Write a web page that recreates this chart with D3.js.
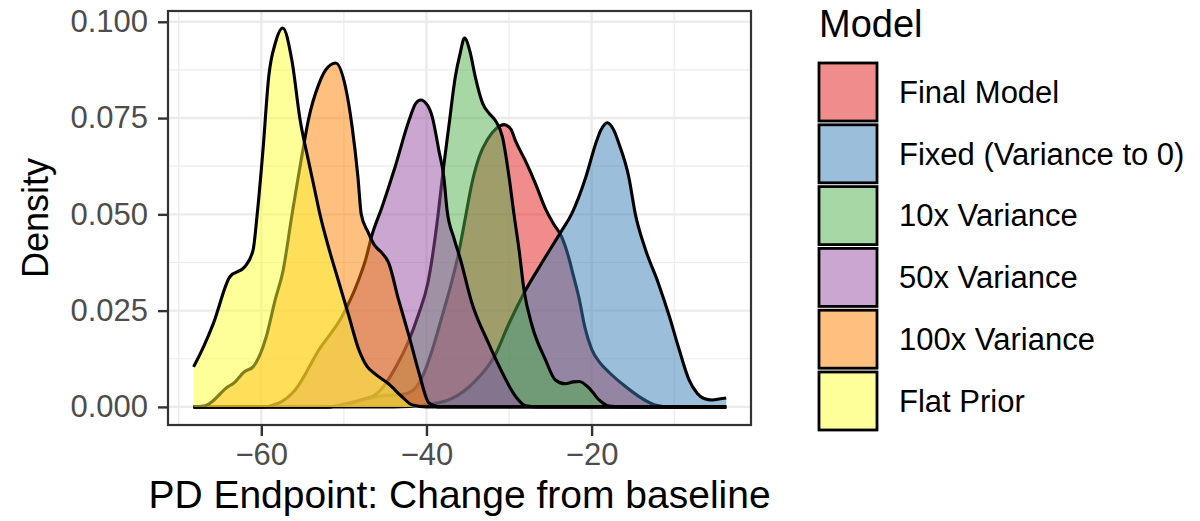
<!DOCTYPE html>
<html>
<head>
<meta charset="utf-8">
<script src="https://cdn.jsdelivr.net/npm/d3@7"></script>
<style>
  body { margin: 0; background: #fff; }
  text { font-family: "Liberation Sans", Arial, sans-serif; }
</style>
</head>
<body>
<div id="chart"></div>
<script>
// Models (legend order = drawing order)
var models = ["Final Model", "Fixed (Variance to 0)", "10x Variance", "50x Variance", "100x Variance", "Flat Prior"];

// Density curves: [change from baseline, density]
var finalModel = [[-68.2, 0], [-52, 0], [-49.8, 0.0006], [-47.4, 0.002], [-45, 0.003], [-43, 0.0032], [-41.7, 0.0042],
  [-40.5, 0.0078], [-39.3, 0.0148], [-38.1, 0.0236], [-37, 0.032], [-36.1, 0.040], [-35.3, 0.049], [-34.5, 0.058],
  [-33.6, 0.065], [-32.6, 0.0695], [-31.6, 0.0722], [-30.6, 0.0733], [-29.8, 0.0722], [-29.2, 0.069], [-28, 0.0638],
  [-26.8, 0.058], [-25.6, 0.0515], [-24.6, 0.0475], [-23.6, 0.044], [-22.8, 0.039], [-22.2, 0.034], [-21.5, 0.028],
  [-20.8, 0.0205], [-20, 0.015], [-19, 0.0115], [-17.9, 0.009], [-15.9, 0.0053], [-13.9, 0.0022], [-12.3, 0.0005],
  [-10.5, 0], [-3.7, 0]];
var fixedVar0 = [[-68.2, 0], [-44, 0], [-40.1, 0.0005], [-36.9, 0.0022], [-34.2, 0.0065], [-31.7, 0.0134], [-30.1, 0.0212],
  [-28.1, 0.0299], [-26, 0.0375], [-23.7, 0.0455], [-22.4, 0.0502], [-20.7, 0.0597], [-19.5, 0.0684], [-18.9, 0.0718],
  [-18.1, 0.0738], [-17.3, 0.0718], [-16.7, 0.0684], [-15.5, 0.0597], [-14.7, 0.050], [-13.5, 0.041], [-11.9, 0.032],
  [-10.6, 0.0236], [-9.4, 0.0149], [-8.2, 0.007], [-7.2, 0.0035], [-6.4, 0.0022], [-5.4, 0.0018], [-4.4, 0.0021], [-3.7, 0.0023]];
var var10x = [[-68.2, 0], [-52, 0], [-49.8, 0.0008], [-47.4, 0.0022], [-46.3, 0.003], [-45.4, 0.0048], [-43.8, 0.01],
  [-42.2, 0.0169], [-41, 0.0238], [-39.8, 0.0325], [-38.6, 0.0498], [-38, 0.061], [-37.3, 0.0727], [-36.5, 0.0858],
  [-35.9, 0.092], [-35.4, 0.0958], [-34.7, 0.092], [-34.1, 0.0858], [-33.2, 0.0788], [-32.4, 0.0762], [-31.7, 0.0745],
  [-30.8, 0.0701], [-30, 0.0597], [-29.4, 0.050], [-28.8, 0.041], [-28.2, 0.0305], [-27.2, 0.021], [-25.6, 0.0123],
  [-24.4, 0.007], [-23.2, 0.006], [-22.2, 0.0065], [-21.5, 0.0066], [-20.3, 0.0049], [-19.1, 0.0018], [-17.9, 0.0002],
  [-16.5, 0], [-3.7, 0]];
var var50x = [[-68.2, 0], [-60, 0], [-57.9, 0.001], [-55.9, 0.0044], [-53, 0.0149], [-50.2, 0.0236], [-48.3, 0.0325],
  [-47.4, 0.038], [-46.6, 0.0446], [-45.4, 0.0518], [-43.8, 0.0623], [-42.1, 0.0745], [-41.3, 0.0788], [-40.7, 0.0797],
  [-39.9, 0.0784], [-39.3, 0.0753], [-38.5, 0.0666], [-37.9, 0.0597], [-37.5, 0.051], [-36.7, 0.044], [-35.9, 0.0384],
  [-34.5, 0.027], [-32.5, 0.0166], [-30.8, 0.0088], [-29.2, 0.0027], [-28, 0.0003], [-26.5, 0], [-3.7, 0]];
var var100x = [[-68.2, 0], [-66.8, 0.0003], [-64, 0.0053], [-63.4, 0.0061], [-62, 0.0092], [-61, 0.0104], [-59.4, 0.0182],
  [-58.3, 0.028], [-57.4, 0.035], [-56.3, 0.0497], [-54.9, 0.0675], [-54.3, 0.0745], [-53, 0.084], [-52.2, 0.0875],
  [-51, 0.0893], [-49.8, 0.083], [-49, 0.0727], [-48.3, 0.0597], [-47.9, 0.050], [-47.1, 0.0455], [-46.3, 0.042],
  [-45.4, 0.040], [-44.6, 0.0375], [-43.4, 0.028], [-42.1, 0.0183], [-40.9, 0.0088], [-39.7, 0.001], [-38.5, 0], [-3.7, 0]];
var flatPrior = [[-68.2, 0.0104], [-67, 0.0156], [-65.8, 0.0217], [-63.8, 0.0338], [-62, 0.0364], [-61, 0.0407],
  [-60.5, 0.050], [-59.8, 0.0667], [-59.1, 0.0858], [-58.3, 0.0945], [-57.4, 0.0984], [-56.3, 0.090], [-55.3, 0.0745],
  [-54.3, 0.064], [-53.5, 0.056], [-52.9, 0.050], [-51.8, 0.041], [-50.6, 0.0323], [-49.4, 0.0236], [-48.2, 0.0149],
  [-47.2, 0.0105], [-46.2, 0.0085], [-44.6, 0.006], [-43, 0.0027], [-41.7, 0.0005], [-40, 0], [-3.7, 0]];

var curves = [finalModel, fixedVar0, var10x, var50x, var100x, flatPrior];

// Tick values
var xMajor = [-60, -40, -20];
var xMinor = [-70, -50, -30, -10];
var yMajor = [0, 0.025, 0.05, 0.075, 0.1];
var yMinor = [0.0125, 0.0375, 0.0625, 0.0875];

// Set1 palette, drawn at half opacity
var palette = ["#E41A1C", "#377EB8", "#4DAF4A", "#984EA3", "#FF7F00", "#FFFF33"];

var width = 1200, height = 521;
var panel = { left: 168, right: 751, top: 11, bottom: 425 };

var svg = d3.select("#chart").append("svg")
    .attr("width", width)
    .attr("height", height);

var x = d3.scaleLinear().domain([-71.3, -0.7]).range([panel.left, panel.right]);
var y = d3.scaleLinear().domain([-0.0047, 0.1028]).range([panel.bottom, panel.top]);

// grid
var grid = svg.append("g");
grid.selectAll(".ymin").data(yMinor).enter().append("line")
    .attr("x1", panel.left).attr("x2", panel.right)
    .attr("y1", function (d) { return y(d); }).attr("y2", function (d) { return y(d); })
    .style("stroke", "#EBEBEB").style("stroke-width", 1.2);
grid.selectAll(".xmin").data(xMinor).enter().append("line")
    .attr("y1", panel.top).attr("y2", panel.bottom)
    .attr("x1", function (d) { return x(d); }).attr("x2", function (d) { return x(d); })
    .style("stroke", "#EBEBEB").style("stroke-width", 1.2);
grid.selectAll(".ymaj").data(yMajor).enter().append("line")
    .attr("x1", panel.left).attr("x2", panel.right)
    .attr("y1", function (d) { return y(d); }).attr("y2", function (d) { return y(d); })
    .style("stroke", "#EBEBEB").style("stroke-width", 2.4);
grid.selectAll(".xmaj").data(xMajor).enter().append("line")
    .attr("y1", panel.top).attr("y2", panel.bottom)
    .attr("x1", function (d) { return x(d); }).attr("x2", function (d) { return x(d); })
    .style("stroke", "#EBEBEB").style("stroke-width", 2.4);

// density areas, each followed by its upper outline
var area = d3.area()
    .x(function (d) { return x(d[0]); })
    .y0(y(0))
    .y1(function (d) { return y(d[1]); })
    .curve(d3.curveMonotoneX);
var line = d3.line()
    .x(function (d) { return x(d[0]); })
    .y(function (d) { return y(d[1]); })
    .curve(d3.curveMonotoneX);

curves.forEach(function (c, i) {
    svg.append("path").attr("d", area(c))
        .style("fill", palette[i]).style("fill-opacity", 0.5).style("stroke", "none");
    svg.append("path").attr("d", line(c))
        .style("fill", "none").style("stroke", "#000").style("stroke-width", 3.1)
        .style("stroke-linejoin", "round");
});

// panel border
svg.append("rect")
    .attr("x", panel.left).attr("y", panel.top)
    .attr("width", panel.right - panel.left).attr("height", panel.bottom - panel.top)
    .style("fill", "none").style("stroke", "#333").style("stroke-width", 2.2);

// axes
var yAxis = svg.append("g")
    .attr("transform", "translate(" + panel.left + ",0)")
    .call(d3.axisLeft(y).tickValues(yMajor).tickFormat(d3.format(".3f")).tickSize(10).tickPadding(10));
var xAxis = svg.append("g")
    .attr("transform", "translate(0," + panel.bottom + ")")
    .call(d3.axisBottom(x).tickValues(xMajor).tickFormat(d3.format("d")).tickSize(11).tickPadding(7));
[xAxis, yAxis].forEach(function (a) {
    a.select(".domain").remove();
    a.selectAll(".tick line").style("stroke", "#333").style("stroke-width", 2.4);
    a.selectAll(".tick text").style("fill", "#4D4D4D").style("font-size", "31px")
        .style("font-family", "'Liberation Sans', Arial, sans-serif");
});

// axis titles
svg.append("text")
    .attr("x", (panel.left + panel.right) / 2)
    .attr("y", 508)
    .style("text-anchor", "middle")
    .style("font-size", "39px")
    .style("fill", "#000")
    .text("PD Endpoint: Change from baseline");

svg.append("text")
    .attr("transform", "translate(48," + ((panel.top + panel.bottom) / 2) + ") rotate(-90)")
    .style("text-anchor", "middle")
    .style("font-size", "36px")
    .style("fill", "#000")
    .text("Density");

// legend
var legend = svg.append("g");
legend.append("text")
    .attr("x", 819).attr("y", 37)
    .style("font-size", "38px")
    .style("fill", "#000")
    .text("Model");

var keys = legend.selectAll(".key").data(models).enter().append("g")
    .attr("transform", function (d, i) { return "translate(819," + (63 + i * 61.8) + ")"; });
keys.append("rect")
    .attr("width", 58).attr("height", 58)
    .style("fill", function (d, i) { return palette[i]; })
    .style("fill-opacity", 0.5)
    .style("stroke", "#000").style("stroke-width", 2.8);
keys.append("text")
    .attr("x", 80).attr("y", 29).attr("dy", "0.35em")
    .style("font-size", "31px")
    .style("fill", "#000")
    .text(function (d) { return d; });
</script>
</body>
</html>
